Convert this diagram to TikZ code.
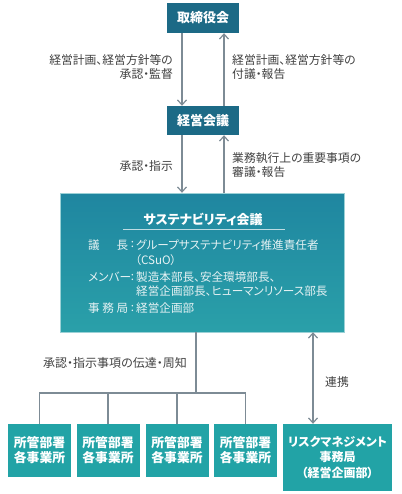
\documentclass[tikz,border=0pt]{standalone}
\usepackage{fontspec}
\setmainfont{Noto Sans CJK JP}[RawFeature=+palt]
\usetikzlibrary{arrows.meta}
\definecolor{dark}{HTML}{1C6A86}
\definecolor{teal1}{HTML}{1F86A0}
\definecolor{teal2}{HTML}{2AA0A9}
\definecolor{boxc}{HTML}{22A3A6}
\definecolor{linec}{HTML}{7D8B95}
\definecolor{txt}{HTML}{404040}
\definecolor{body}{HTML}{E6F2F4}
\tikzset{
  darkbox/.style={fill=dark, text=white, font=\fontsize{13}{15}\selectfont\bfseries, minimum width=72pt, minimum height=30pt, inner sep=0pt},
  deptbox/.style={fill=boxc, text=white, font=\fontsize{12.8}{15}\selectfont\bfseries, minimum width=63pt, minimum height=53pt, inner sep=0pt, align=center},
  riskbox/.style={fill=boxc, text=white, font=\fontsize{12}{15.5}\selectfont\bfseries, minimum width=109pt, minimum height=67pt, inner sep=0pt, align=center},
  lbl/.style={text=txt, font=\fontsize{11.8}{14.5}\selectfont, inner sep=0pt},
  bodytxt/.style={text=body, font=\fontsize{11.6}{13}\selectfont, inner sep=0pt, anchor=west},
  conn/.style={draw=linec, line width=1.2pt},
  arr/.style={conn, -{Straight Barb[length=5pt,width=9pt,line width=1.2pt]}},
  arrtwo/.style={conn, {Straight Barb[length=5pt,width=9pt,line width=1.2pt]}-{Straight Barb[length=5pt,width=9pt,line width=1.2pt]}}
}
\begin{document}
\begin{tikzpicture}[x=1pt,y=-1pt]
\useasboundingbox (0,0) rectangle (401,494);
% top boxes
\node[darkbox] (board) at (203,18) {取締役会};
\node[darkbox, minimum height=29pt] (mgmt) at (203,120.5) {経営会議};
% sustainability box
\shade[top color=teal1, bottom color=teal2, draw=body!60!teal2, line width=0.4pt] (60,193) rectangle (344,332);
\node[minimum width=284pt, minimum height=139pt, inner sep=0pt] (sus) at (202,262.5) {};
\node[text=white, font=\fontsize{13}{15}\selectfont\bfseries, inner sep=0pt] (title) at (203,219) {サステナビリティ会議};
\draw[draw=body!80!teal1, line width=0.7pt] ([xshift=-80pt,yshift=-10pt]title.center) coordinate (ul1) -- ([xshift=82pt,yshift=-10pt]title.center) coordinate (ul2);
\node[bodytxt] (l1) at (88,245) {\makebox[40pt][s]{議\hfill 長}};
\node[bodytxt, anchor=center] (c1) at (132.5,245) {:};
\node[bodytxt] (t1) at (136,245) {グループサステナビリティ推進責任者};
\node[bodytxt] (t1b) at (135,260) {（CSuO）};
\node[bodytxt] (l2) at (88,277) {メンバー};
\node[bodytxt, anchor=center] (c2) at (132.5,277) {:};
\node[bodytxt] (t2) at (136,277) {製造本部長、安全環境部長、};
\node[bodytxt] (t2b) at (136,291) {経営企画部長、ヒューマンリソース部長};
\node[bodytxt] (l3) at (88,308) {\makebox[40pt][s]{事\hfill 務\hfill 局}};
\node[bodytxt, anchor=center] (c3) at (132.5,308) {:};
\node[bodytxt] (t3) at (136,308) {経営企画部};
% bottom boxes
\node[deptbox] (d1) at (39.5,450.5) {所管部署\\各事業所};
\node[deptbox] (d2) at (108,450.5) {所管部署\\各事業所};
\node[deptbox] (d3) at (177,450.5) {所管部署\\各事業所};
\node[deptbox] (d4) at (245.5,450.5) {所管部署\\各事業所};
\node[riskbox] (risk) at (337.5,457.5) {リスクマネジメント\\事務局\\（経営企画部）};
% arrows top
\draw[arr] ([xshift=-21pt]board.south) -- ([xshift=-21pt]mgmt.north);
\draw[arr] ([xshift=21pt]mgmt.north) -- ([xshift=21pt]board.south);
\draw[arr] ([xshift=-21pt]mgmt.south) -- ([xshift=-21pt]mgmt.south |- sus.north);
\draw[arr] ([xshift=21pt]mgmt.south |- sus.north) -- ([xshift=21pt]mgmt.south);
% labels
\node[lbl, anchor=east, align=right] (la) at (173,67) {経営計画、経営方針等の\\承認・監督};
\node[lbl, anchor=west, align=left] (lb) at (232,67) {経営計画、経営方針等の\\付議・報告};
\node[lbl, anchor=east] (lc) at (173,166) {承認・指示};
\node[lbl, anchor=west, align=left] (ld) at (232,165) {業務執行上の重要事項の\\審議・報告};
\node[lbl, anchor=west, font=\fontsize{12}{14.5}\selectfont] (le) at (43,363) {承認・指示事項の伝達・周知};
\node[lbl, anchor=west] (lf) at (325,382) {連携};
% tree
\coordinate (bus) at (196,393);
\draw[conn] ([xshift=-6pt]sus.south) -- (bus);
\draw[conn] (d1.north) -- (d1.north |- bus) -- (d4.north |- bus) -- (d4.north);
\draw[conn] (d2.north) -- (d2.north |- bus);
\draw[conn] (d3.north) -- (d3.north |- bus);
\draw[arrtwo] ([xshift=-24.5pt]risk.north |- sus.south) -- ([xshift=-24.5pt]risk.north);
\end{tikzpicture}
\end{document}
